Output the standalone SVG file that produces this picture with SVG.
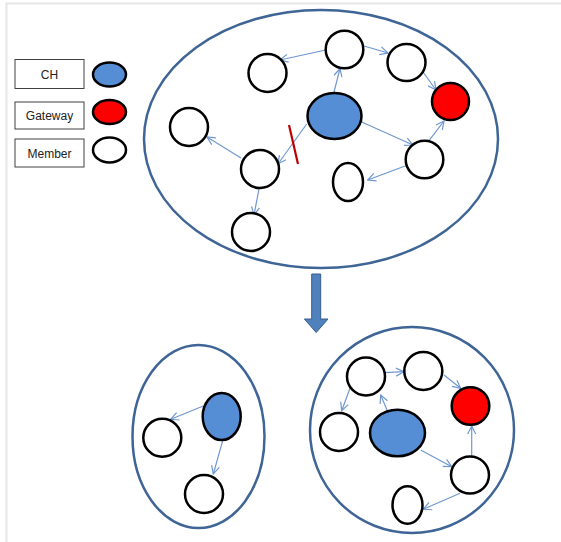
<svg xmlns="http://www.w3.org/2000/svg" width="561" height="542" viewBox="0 0 561 542">
<style>
.frame{fill:none;stroke:#E6E6E6;stroke-width:2}
.cluster{fill:none;stroke:#3E6596;stroke-width:2.5}
.mem{fill:#FFFFFF;stroke:#000000;stroke-width:2.5}
.ch{fill:#558ED5;stroke:#000000;stroke-width:2.5}
.gw{fill:#FF0000;stroke:#000000;stroke-width:2.5}
.lg{fill:#FFFFFF;stroke:#404040;stroke-width:1}
.lt{font-family:"Liberation Sans",Arial,sans-serif;font-size:12px;fill:#222222;text-anchor:middle}
.link{stroke:#6F98D0;stroke-width:1.2;fill:none;marker-end:url(#ah)}
</style>
<defs>
<marker id="ah" viewBox="0 0 10 10" refX="9" refY="5" markerWidth="10" markerHeight="10" markerUnits="userSpaceOnUse" orient="auto">
<path d="M1,1 L9,5 L1,9" fill="none" stroke="#6F98D0" stroke-width="1.2"/>
</marker>
</defs>
<rect width="561" height="542" fill="#FFFFFF"/>
<path class="frame" d="M6.5,542 V3.5 H561"/>
<g id="legend">
<g id="legend-ch"><rect class="lg" x="15" y="59.5" width="69" height="29"/><text class="lt" x="49.5" y="78.5">CH</text><ellipse class="ch" cx="109.5" cy="74.5" rx="16.5" ry="12"/></g>
<g id="legend-gateway"><rect class="lg" x="15" y="102" width="69" height="27"/><text class="lt" x="49.5" y="120">Gateway</text><ellipse class="gw" cx="109.5" cy="112" rx="16.5" ry="12"/></g>
<g id="legend-member"><rect class="lg" x="15" y="139" width="69" height="28"/><text class="lt" x="49.5" y="157.5">Member</text><ellipse class="mem" cx="109.5" cy="150" rx="16.5" ry="12.5"/></g>
</g>
<g id="cluster-top"><ellipse class="cluster" cx="321" cy="139" rx="177" ry="129"/></g>
<g id="cluster-bl"><ellipse class="cluster" cx="198.5" cy="436.5" rx="66" ry="91.5"/></g>
<g id="cluster-br"><ellipse class="cluster" cx="412" cy="430" rx="102" ry="103"/></g>
<g id="connectors">
<line class="link" x1="325.7" y1="50" x2="280" y2="60"/>
<line class="link" x1="364" y1="46" x2="388" y2="53"/>
<line class="link" x1="423" y1="72" x2="436" y2="90"/>
<line class="link" x1="334" y1="92" x2="340" y2="68.5"/>
<line class="link" x1="306.7" y1="124" x2="278" y2="164"/>
<line class="link" x1="241" y1="158" x2="207" y2="137"/>
<line class="link" x1="259" y1="189" x2="254" y2="215"/>
<line class="link" x1="361.7" y1="122" x2="413" y2="145"/>
<line class="link" x1="429" y1="140.7" x2="444" y2="121"/>
<line class="link" x1="405.7" y1="165.7" x2="367.7" y2="180"/>
<line x1="289" y1="125" x2="298" y2="164" stroke="#C00000" stroke-width="2.2"/>
<line class="link" x1="203.3" y1="406" x2="170.7" y2="419.3"/>
<line class="link" x1="222.7" y1="440.7" x2="213.3" y2="474"/>
<line class="link" x1="385" y1="372.7" x2="404" y2="371.7"/>
<line class="link" x1="444" y1="375" x2="460.7" y2="388.3"/>
<line class="link" x1="350" y1="388.3" x2="341.7" y2="410.7"/>
<line class="link" x1="387.3" y1="410.7" x2="380.7" y2="395"/>
<line class="link" x1="420.7" y1="450" x2="451.7" y2="466.7"/>
<line class="link" x1="471.7" y1="456.7" x2="471.7" y2="426"/>
<line class="link" x1="460" y1="493.3" x2="423.3" y2="509.3"/>
<path d="M311.7,274 H320.7 V319 H328 L316.2,332.5 L304.4,319 H311.7 Z" fill="#4F81BD" stroke="#385D8A" stroke-width="1"/>
</g>
<g id="t-ch"><ellipse class="ch" cx="334.5" cy="116" rx="27" ry="23"/></g>
<g id="t-top"><ellipse class="mem" cx="344.5" cy="49.5" rx="18.8" ry="18.8"/></g>
<g id="t-topleft"><ellipse class="mem" cx="267.5" cy="73" rx="19" ry="19"/></g>
<g id="t-topright"><ellipse class="mem" cx="406.5" cy="62.5" rx="19" ry="18.5"/></g>
<g id="t-gw"><ellipse class="gw" cx="450.5" cy="101.5" rx="18.5" ry="18.5"/></g>
<g id="t-farleft"><ellipse class="mem" cx="189" cy="127" rx="19" ry="19"/></g>
<g id="t-midleft"><ellipse class="mem" cx="260" cy="169" rx="19" ry="19"/></g>
<g id="t-rightlow"><ellipse class="mem" cx="424.5" cy="159.5" rx="18.8" ry="18.8"/></g>
<g id="t-small"><ellipse class="mem" cx="348" cy="182" rx="15" ry="19"/></g>
<g id="t-bottom"><ellipse class="mem" cx="251" cy="232" rx="19" ry="19"/></g>
<g id="bl-ch"><ellipse class="ch" cx="221.7" cy="416.5" rx="19" ry="23.5"/></g>
<g id="bl-left"><ellipse class="mem" cx="162.3" cy="437.8" rx="19" ry="19"/></g>
<g id="bl-bottom"><ellipse class="mem" cx="204" cy="494" rx="19" ry="19"/></g>
<g id="br-a"><ellipse class="mem" cx="366" cy="376.5" rx="19" ry="19"/></g>
<g id="br-b"><ellipse class="mem" cx="423.3" cy="371" rx="19" ry="19"/></g>
<g id="br-gw"><ellipse class="gw" cx="470.5" cy="406" rx="18.8" ry="18.8"/></g>
<g id="br-left"><ellipse class="mem" cx="339" cy="432" rx="19" ry="19"/></g>
<g id="br-ch"><ellipse class="ch" cx="397.5" cy="433" rx="27.5" ry="23.3"/></g>
<g id="br-rightlow"><ellipse class="mem" cx="470" cy="475" rx="19" ry="18.5"/></g>
<g id="br-small"><ellipse class="mem" cx="407.5" cy="505" rx="15" ry="18.7"/></g>
</svg>
